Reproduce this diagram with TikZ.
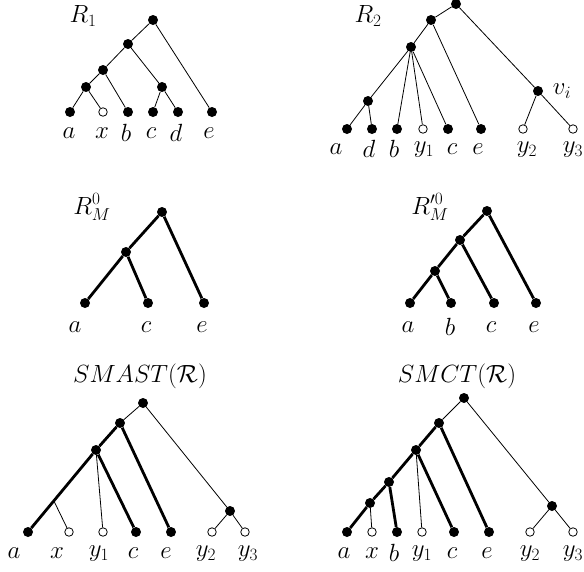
\documentclass[tikz,border=0pt]{standalone}
\usetikzlibrary{calc}
\begin{document}
\begin{tikzpicture}[x=1pt,y=-1pt,
  dot/.style={circle,fill=black,inner sep=0pt,minimum size=10pt},
  odot/.style={circle,draw=black,fill=white,inner sep=0pt,minimum size=8.5pt,line width=0.8pt},
  tedge/.style={line width=0.8pt},
  Tedge/.style={line width=2.8pt},
  lab/.style={font=\fontsize{24}{28}\selectfont,inner sep=0pt}]
\useasboundingbox (0,0) rectangle (584,571);
% ---------- R1 ----------
\node[lab] (t1) at (83,16) {$R_1$};
\node[dot] (r1) at (153,20) {};
\node[dot] (r1n1) at (128,44) {};
\node[dot] (r1n2) at (103,70) {};
\node[dot] (r1n3) at (86,87) {};
\node[dot] (r1n4) at (162,87) {};
\node[dot] (r1a) at (70,112) {};
\node[odot] (r1x) at (103,112) {};
\node[dot] (r1b) at (128,112) {};
\node[dot] (r1c) at (153,112) {};
\node[dot] (r1d) at (178,112) {};
\node[dot] (r1e) at (212,112) {};
\draw[tedge] (r1)--(r1n1) (r1)--(r1e) (r1n1)--(r1n2) (r1n1)--(r1n4)
  (r1n2)--(r1n3) (r1n2)--(r1b) (r1n3)--(r1a) (r1n3)--(r1x) (r1n4)--(r1c) (r1n4)--(r1d);
\node[lab] (l1a) at (69,133) {$a$};
\node[lab] (l1x) at (102,133) {$x$};
\node[lab] (l1b) at (126,133) {$b$};
\node[lab] (l1c) at (151,133) {$c$};
\node[lab] (l1d) at (176,133) {$d$};
\node[lab] (l1e) at (209,133) {$e$};
% ---------- R2 ----------
\node[lab] (t2) at (368,16) {$R_2$};
\node[dot] (r2) at (456,4) {};
\node[dot] (r2n1) at (431,20) {};
\node[dot] (r2n2) at (411,47) {};
\node[dot] (r2n3) at (368,101) {};
\node[dot] (r2v) at (538,91) {};
\node[dot] (r2a) at (347,129) {};
\node[dot] (r2d) at (372,129) {};
\node[dot] (r2b) at (397,129) {};
\node[odot] (r2y1) at (423,129) {};
\node[dot] (r2c) at (448,129) {};
\node[dot] (r2e) at (481,129) {};
\node[odot] (r2y2) at (523,129) {};
\node[odot] (r2y3) at (573,129) {};
\draw[tedge] (r2)--(r2n1) (r2)--(r2v) (r2n1)--(r2n2) (r2n1)--(r2e)
  (r2n2)--(r2n3) (r2n2)--(r2b) (r2n2)--(r2y1) (r2n2)--(r2c)
  (r2n3)--(r2a) (r2n3)--(r2d) (r2v)--(r2y2) (r2v)--(r2y3);
\node[lab] (l2v) at (562,91) {$v_i$};
\node[lab] (l2a) at (336,149) {$a$};
\node[lab] (l2d) at (369,149) {$d$};
\node[lab] (l2b) at (394,149) {$b$};
\node[lab] (l2y1) at (424,150) {$y_1$};
\node[lab] (l2c) at (452,149) {$c$};
\node[lab] (l2e) at (478,149) {$e$};
\node[lab] (l2y2) at (527,150) {$y_2$};
\node[lab] (l2y3) at (573,150) {$y_3$};
% ---------- R_M^0 ----------
\node[lab] (t3) at (92,207) {$R_M^0$};
\node[dot] (m) at (162,212) {};
\node[dot] (mn) at (126,252) {};
\node[dot] (ma) at (85,303) {};
\node[dot] (mc) at (148,303) {};
\node[dot] (me) at (204,303) {};
\draw[Tedge] (m)--(mn) (m)--(me) (mn)--(ma) (mn)--(mc);
\node[lab] (l3a) at (75,327) {$a$};
\node[lab] (l3c) at (146,327) {$c$};
\node[lab] (l3e) at (202,327) {$e$};
% ---------- R'_M^0 ----------
\node[lab] (t4) at (430,207) {$R_M'^0$};
\node[dot] (p) at (487,211) {};
\node[dot] (pn1) at (460,240) {};
\node[dot] (pn2) at (435,271) {};
\node[dot] (pa) at (410,303) {};
\node[dot] (pb) at (451,303) {};
\node[dot] (pc) at (494,303) {};
\node[dot] (pe) at (536,303) {};
\draw[Tedge] (p)--(pn1) (p)--(pe) (pn1)--(pn2) (pn1)--(pc) (pn2)--(pa) (pn2)--(pb);
\node[lab] (l4a) at (408,327) {$a$};
\node[lab] (l4b) at (450,327) {$b$};
\node[lab] (l4c) at (491,327) {$c$};
\node[lab] (l4e) at (534,327) {$e$};
% ---------- SMAST ----------
\node[lab] (t5) at (140,376) {$SMAST(\mathcal{R})$};
\node[dot] (s) at (143,403) {};
\node[dot] (sn1) at (120,423) {};
\node[dot] (sn2) at (96,450) {};
\node[dot] (sv) at (230,511) {};
\node[dot] (sa) at (28,532) {};
\node[odot] (sx) at (69,532) {};
\node[odot] (sy1) at (103,532) {};
\node[dot] (sc) at (136,532) {};
\node[dot] (se) at (171,532) {};
\node[odot] (sy2) at (212,532) {};
\node[odot] (sy3) at (245,532) {};
\coordinate (sk) at ($(sn2)!0.62!(sa)$);
\draw[tedge] (s)--(sn1) (s)--(sv) (sn2)--(sy1) (sk)--(sx) (sv)--(sy2) (sv)--(sy3);
\draw[Tedge] (sn1)--(sn2) (sn1)--(se) (sn2)--(sa) (sn2)--(sc);
\node[lab] (l5a) at (14,553) {$a$};
\node[lab] (l5x) at (57,553) {$x$};
\node[lab] (l5y1) at (99,554) {$y_1$};
\node[lab] (l5c) at (133,553) {$c$};
\node[lab] (l5e) at (166,553) {$e$};
\node[lab] (l5y2) at (206,554) {$y_2$};
\node[lab] (l5y3) at (248,554) {$y_3$};
% ---------- SMCT ----------
\node[lab] (t6) at (457,376) {$SMCT(\mathcal{R})$};
\node[dot] (q) at (464,398) {};
\node[dot] (qn1) at (439,423) {};
\node[dot] (qn2) at (416,450) {};
\node[dot] (qn3) at (389,482) {};
\node[dot] (qn4) at (370,503) {};
\node[dot] (qv) at (552,506) {};
\node[dot] (qa) at (347,532) {};
\node[odot] (qx) at (372,532) {};
\node[dot] (qb) at (397,532) {};
\node[odot] (qy1) at (422,532) {};
\node[dot] (qc) at (454,532) {};
\node[dot] (qe) at (489,532) {};
\node[odot] (qy2) at (530,532) {};
\node[odot] (qy3) at (573,532) {};
\draw[tedge] (q)--(qn1) (q)--(qv) (qn2)--(qy1) (qn4)--(qx) (qv)--(qy2) (qv)--(qy3);
\draw[Tedge] (qn1)--(qn2) (qn1)--(qe) (qn2)--(qn3) (qn2)--(qc) (qn3)--(qn4) (qn3)--(qb) (qn4)--(qa);
\node[lab] (l6a) at (344,553) {$a$};
\node[lab] (l6x) at (372,553) {$x$};
\node[lab] (l6b) at (394,553) {$b$};
\node[lab] (l6y1) at (422,554) {$y_1$};
\node[lab] (l6c) at (452,553) {$c$};
\node[lab] (l6e) at (487,553) {$e$};
\node[lab] (l6y2) at (530,554) {$y_2$};
\node[lab] (l6y3) at (573,554) {$y_3$};
\end{tikzpicture}
\end{document}
